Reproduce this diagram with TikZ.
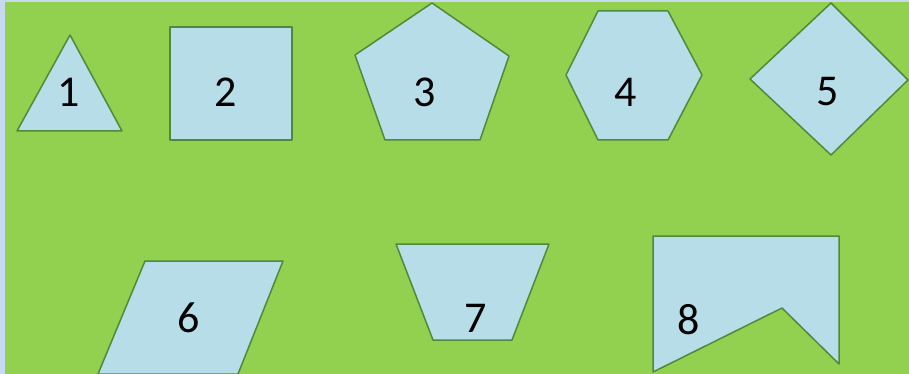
\documentclass[tikz,border=0pt]{standalone}
\usepackage{fontspec}
\setmainfont{Carlito}
\definecolor{bgblue}{HTML}{C6D9F1}
\definecolor{bggreen}{HTML}{92D050}
\definecolor{shapefill}{HTML}{B7DEE8}
\definecolor{shapeline}{HTML}{4F8A3A}
\begin{document}
\begin{tikzpicture}[x=1pt,y=-1pt,
  shp/.style={fill=shapefill,draw=shapeline,line width=1.5pt,line join=round},
  lbl/.style={font=\fontsize{44}{44}\selectfont,text=black,inner sep=0pt}]
\fill[bgblue] (0,0) rectangle (909,374);
\useasboundingbox (0,0) rectangle (909,374);
\fill[bggreen] (5,2) rectangle (909,374);
% 1 triangle
\draw[shp] (70,35) -- (122,131) -- (17,131) -- cycle;
\node[lbl] (l1) at (69,92) {1};
% 2 square
\draw[shp] (170,27) rectangle (292,140);
\node[lbl] (l2) at (226,92) {2};
% 3 pentagon
\draw[shp] (432,3) -- (509,56) -- (480,140) -- (385,140) -- (355,55) -- cycle;
\node[lbl] (l3) at (425,92) {3};
% 4 hexagon
\draw[shp] (598,11) -- (668,11) -- (702,75) -- (668,140) -- (598,140) -- (566,75) -- cycle;
\node[lbl] (l4) at (626,92) {4};
% 5 diamond
\draw[shp] (831,3) -- (908,80) -- (831,155) -- (750,79) -- cycle;
\node[lbl] (l5) at (828,92) {5};
% 6 parallelogram
\draw[shp] (145,261) -- (283,261) -- (238,374) -- (98,374) -- cycle;
\node[lbl] (l6) at (189,318) {6};
% 7 trapezoid
\draw[shp] (396,244) -- (549,244) -- (512,340) -- (433,340) -- cycle;
\node[lbl] (l7) at (476,318) {7};
% 8 notched flag
\draw[shp] (653,236) -- (839,236) -- (839,364) -- (782,308) -- (653,372) -- cycle;
\node[lbl] (l8) at (689,320) {8};
\end{tikzpicture}
\end{document}
